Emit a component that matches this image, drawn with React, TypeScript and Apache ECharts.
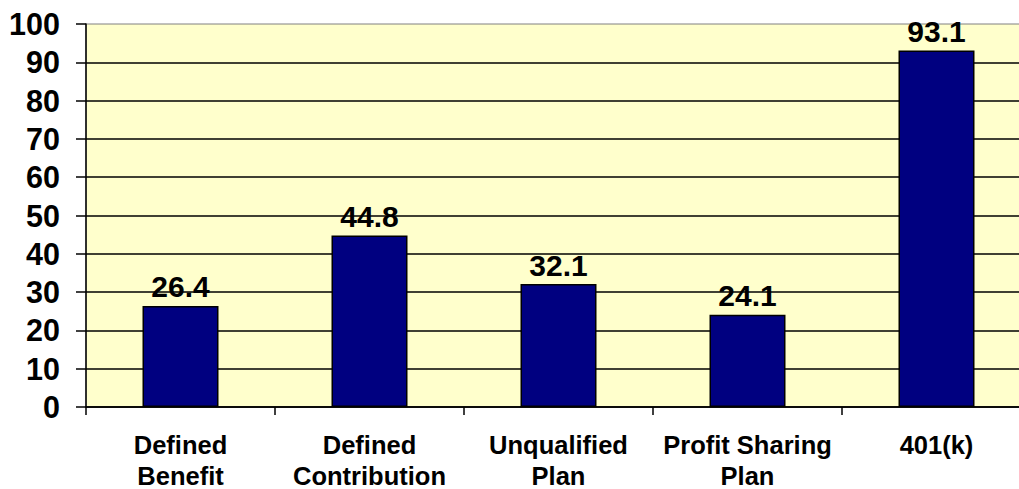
import React, { useEffect, useRef } from "react";
import * as echarts from "echarts";

const categories = [
  "Defined\nBenefit",
  "Defined\nContribution",
  "Unqualified\nPlan",
  "Profit Sharing\nPlan",
  "401(k)",
];
const values = [26.4, 44.8, 32.1, 24.1, 93.1];
const yMin = 0;
const yMax = 100;
const yInterval = 10;

const FONT = "'Liberation Sans', Arial, sans-serif";

export default function App() {
  const ref = useRef<HTMLDivElement>(null);
  useEffect(() => {
    if (!ref.current) return;
    const chart = echarts.init(ref.current, null, { renderer: "svg" });
    chart.setOption({
      animation: false,
      backgroundColor: "#ffffff",
      grid: {
        left: 86,
        top: 24,
        width: 945,
        height: 383,
        show: true,
        backgroundColor: "#FFFFCC",
        borderColor: "#808080",
        borderWidth: 1,
        containLabel: false,
        outerBoundsMode: "none",
      },
      xAxis: {
        type: "category",
        data: categories,
        axisLine: { show: true, lineStyle: { color: "#000", width: 1.5 } },
        axisTick: {
          show: true,
          alignWithLabel: false,
          length: 8,
          lineStyle: { color: "#000", width: 1.5 },
        },
        axisLabel: {
          color: "#000",
          fontFamily: FONT,
          fontWeight: "bold",
          fontSize: 25.5,
          lineHeight: 31,
          margin: 22,
          interval: 0,
        },
      },
      yAxis: {
        type: "value",
        min: yMin,
        max: yMax,
        interval: yInterval,
        axisLine: { show: true, lineStyle: { color: "#000", width: 1.5 } },
        axisTick: {
          show: true,
          length: 10,
          lineStyle: { color: "#000", width: 1.5 },
        },
        splitLine: {
          show: true,
          showMaxLine: false,
          lineStyle: { color: "#000", width: 1.5 },
        },
        axisLabel: {
          color: "#000",
          fontFamily: FONT,
          fontWeight: "bold",
          fontSize: 30.5,
          margin: 26,
        },
      },
      series: [
        {
          type: "bar",
          data: values,
          barWidth: 76,
          itemStyle: {
            color: "#000080",
            borderColor: "#000",
            borderWidth: 1.5,
          },
          label: {
            show: true,
            position: "top",
            distance: 4,
            color: "#000",
            fontFamily: FONT,
            fontWeight: "bold",
            fontSize: 30,
          },
        },
      ],
    });
    return () => chart.dispose();
  }, []);
  return (
    <div
      ref={ref}
      style={{ position: "fixed", left: 0, top: 0, width: 1019, height: 489 }}
    />
  );
}
